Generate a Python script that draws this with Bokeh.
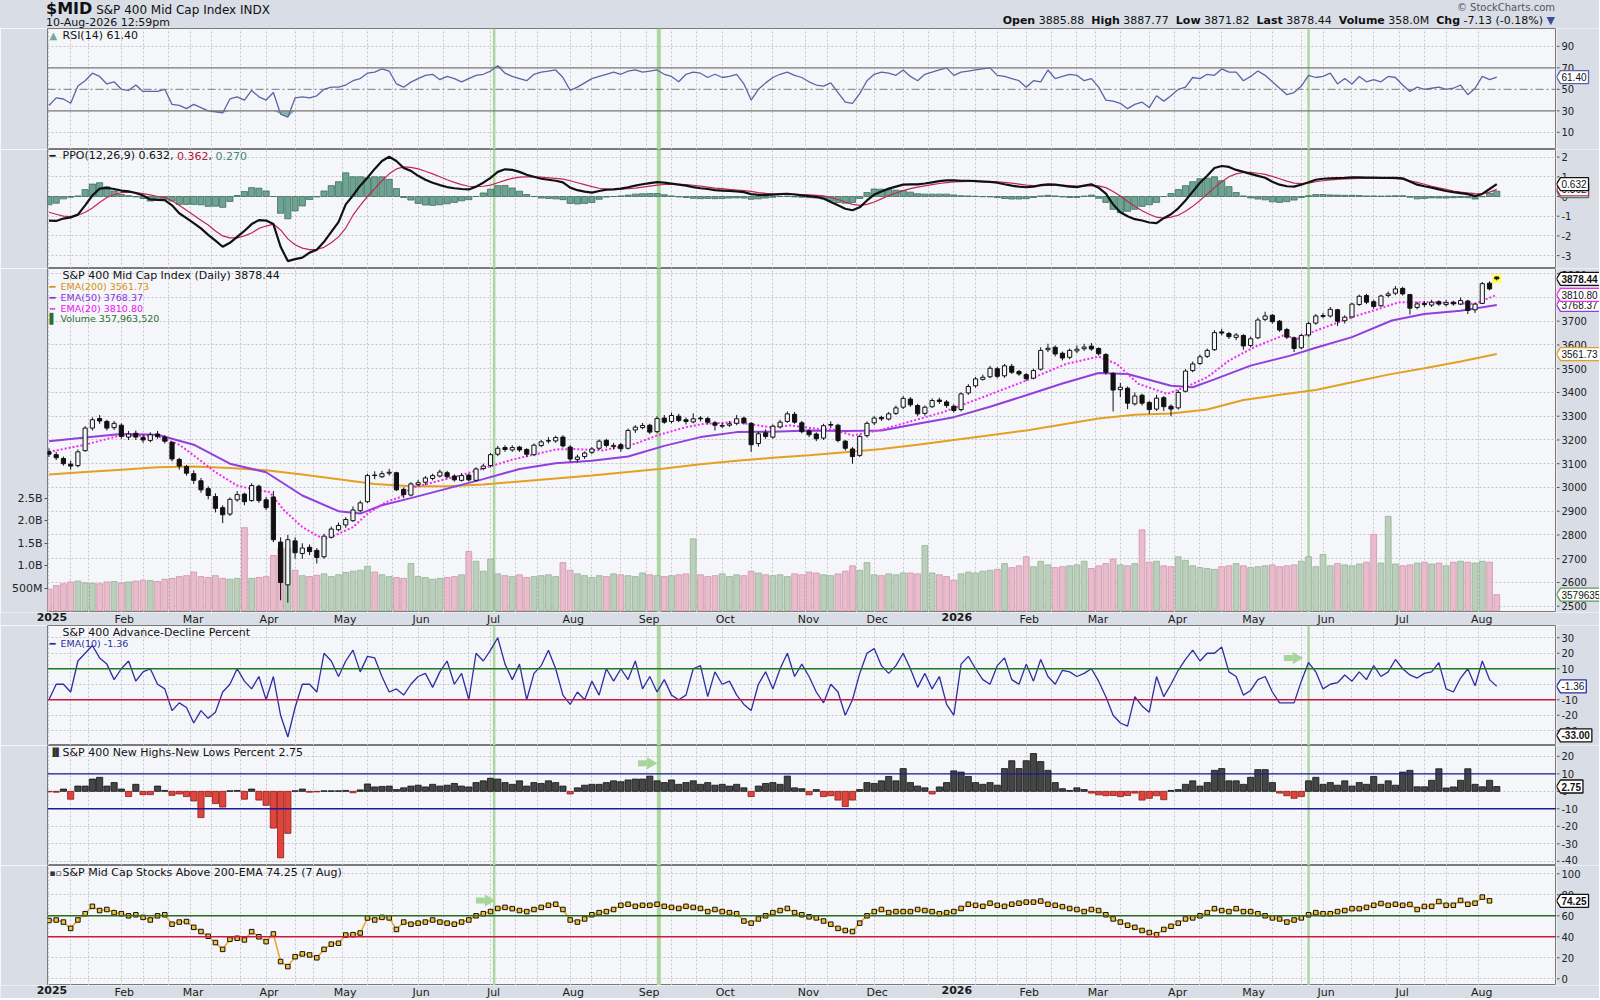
import numpy as np
import pandas as pd
from bokeh.plotting import figure
from bokeh.models import Range1d, LinearAxis, FixedTicker, Label, Span, Grid, Div, ColumnDataSource
from bokeh.layouts import column, row
from bokeh.embed import file_html
from bokeh.resources import INLINE
from bokeh.core.properties import value

# ---------------- calendar ----------------
holidays = ["2025-01-01", "2025-01-09", "2025-01-20", "2025-02-17", "2025-04-18", "2025-05-26",
            "2025-06-19", "2025-07-04", "2025-09-01", "2025-11-27", "2025-12-25", "2026-01-01",
            "2026-01-19", "2026-02-16", "2026-04-03", "2026-05-25", "2026-06-19", "2026-07-03"]
sessions = [d for d in pd.bdate_range("2025-01-02", "2026-08-10") if d.strftime("%Y-%m-%d") not in holidays]

# ---------------- data (one value per two sessions) ----------------
slot = list(range(0, 401, 2))

price_open = [
    3150, 3138, 3122, 3098, 3092, 3155, 3250, 3290, 3278, 3252,
    3262, 3212, 3228, 3210, 3198, 3225, 3212, 3190, 3118, 3088,
    3058, 3028, 2995, 2962, 2915, 2888, 2948, 2972, 2945, 3005,
    2948, 2960, 2770, 2590, 2775, 2722, 2748, 2735, 2708, 2790,
    2822, 2842, 2860, 2902, 2940, 3052, 3045, 3060, 3062, 2992,
    2968, 3012, 3022, 3038, 3048, 3062, 3048, 3030, 3052, 3030,
    3080, 3092, 3140, 3168, 3158, 3170, 3160, 3138, 3176, 3195,
    3196, 3212, 3170, 3118, 3130, 3148, 3165, 3198, 3172, 3180,
    3165, 3242, 3252, 3262, 3235, 3292, 3278, 3300, 3285, 3276,
    3292, 3290, 3272, 3258, 3262, 3270, 3292, 3270, 3185, 3230,
    3212, 3255, 3278, 3308, 3272, 3238, 3225, 3208, 3262, 3262,
    3195, 3162, 3135, 3218, 3272, 3295, 3288, 3312, 3338, 3372,
    3345, 3312, 3340, 3368, 3360, 3342, 3328, 3398, 3428, 3455,
    3466, 3500, 3470, 3510, 3488, 3475, 3460, 3498, 3580, 3590,
    3565, 3548, 3575, 3584, 3595, 3585, 3560, 3480, 3412, 3418,
    3352, 3388, 3358, 3330, 3378, 3342, 3335, 3405, 3492, 3522,
    3552, 3580, 3655, 3648, 3632, 3640, 3598, 3630, 3708, 3725,
    3700, 3665, 3630, 3588, 3642, 3692, 3720, 3722, 3748, 3702,
    3718, 3770, 3808, 3782, 3765, 3808, 3818, 3838, 3812, 3758,
    3775, 3768, 3782, 3770, 3780, 3772, 3785, 3748, 3775, 3860,
    3885.88]
price_high = [
    3165, 3150, 3130, 3112, 3160, 3258, 3295, 3305, 3285, 3280,
    3270, 3238, 3240, 3222, 3232, 3238, 3220, 3195, 3125, 3095,
    3072, 3040, 3005, 2975, 2925, 2958, 2985, 2978, 3018, 3012,
    2960, 2985, 2790, 2800, 2790, 2765, 2760, 2745, 2805, 2835,
    2852, 2875, 2920, 2945, 3058, 3068, 3070, 3078, 3066, 3000,
    3022, 3032, 3048, 3058, 3075, 3070, 3055, 3060, 3058, 3085,
    3100, 3145, 3175, 3178, 3178, 3175, 3165, 3185, 3200, 3212,
    3218, 3220, 3178, 3138, 3152, 3170, 3202, 3205, 3188, 3188,
    3248, 3262, 3272, 3268, 3300, 3305, 3315, 3310, 3295, 3312,
    3300, 3298, 3280, 3272, 3280, 3305, 3298, 3275, 3235, 3245,
    3265, 3285, 3320, 3318, 3280, 3245, 3232, 3268, 3278, 3268,
    3200, 3170, 3222, 3278, 3300, 3302, 3318, 3345, 3385, 3380,
    3352, 3345, 3375, 3378, 3368, 3350, 3400, 3435, 3465, 3475,
    3512, 3508, 3520, 3520, 3495, 3482, 3500, 3590, 3605, 3598,
    3572, 3585, 3598, 3605, 3608, 3590, 3565, 3485, 3440, 3425,
    3400, 3395, 3365, 3390, 3385, 3350, 3410, 3498, 3530, 3560,
    3585, 3662, 3668, 3655, 3650, 3645, 3635, 3715, 3740, 3730,
    3705, 3672, 3635, 3648, 3698, 3730, 3735, 3760, 3752, 3725,
    3778, 3812, 3815, 3790, 3812, 3825, 3848, 3845, 3815, 3782,
    3785, 3790, 3788, 3790, 3786, 3800, 3790, 3778, 3865, 3868,
    3887.77]
price_low = [
    3128, 3115, 3092, 3075, 3085, 3150, 3240, 3268, 3240, 3242,
    3205, 3200, 3200, 3188, 3190, 3205, 3185, 3110, 3075, 3050,
    3015, 2978, 2950, 2895, 2850, 2880, 2940, 2925, 2940, 2935,
    2905, 2770, 2525, 2515, 2700, 2700, 2715, 2680, 2700, 2785,
    2815, 2830, 2855, 2895, 2935, 3035, 3040, 3050, 2985, 2955,
    2962, 3005, 3010, 3030, 3042, 3038, 3025, 3025, 3025, 3025,
    3072, 3085, 3132, 3150, 3150, 3150, 3128, 3132, 3170, 3185,
    3188, 3168, 3108, 3105, 3120, 3140, 3158, 3168, 3160, 3150,
    3160, 3230, 3245, 3225, 3228, 3268, 3270, 3275, 3265, 3270,
    3278, 3265, 3240, 3250, 3255, 3262, 3265, 3150, 3172, 3205,
    3205, 3248, 3272, 3268, 3228, 3212, 3195, 3200, 3250, 3190,
    3155, 3100, 3128, 3210, 3262, 3280, 3282, 3305, 3330, 3340,
    3300, 3302, 3335, 3352, 3335, 3315, 3320, 3390, 3420, 3450,
    3460, 3460, 3462, 3478, 3470, 3448, 3455, 3492, 3570, 3552,
    3535, 3540, 3565, 3575, 3575, 3555, 3475, 3320, 3380, 3330,
    3345, 3345, 3310, 3322, 3322, 3300, 3328, 3400, 3485, 3515,
    3545, 3575, 3640, 3625, 3620, 3580, 3590, 3625, 3700, 3690,
    3655, 3625, 3570, 3582, 3635, 3685, 3712, 3715, 3680, 3690,
    3712, 3765, 3772, 3752, 3760, 3800, 3810, 3808, 3728, 3750,
    3760, 3760, 3765, 3762, 3765, 3768, 3730, 3735, 3772, 3830,
    3871.82]
price_close = [
    3140, 3125, 3100, 3090, 3150, 3250, 3285, 3280, 3250, 3270,
    3215, 3225, 3212, 3200, 3222, 3215, 3195, 3120, 3090, 3060,
    3030, 2990, 2966, 2912, 2885, 2950, 2970, 2940, 3008, 2945,
    2915, 2780, 2600, 2780, 2725, 2745, 2730, 2705, 2795, 2825,
    2840, 2865, 2905, 2935, 3050, 3050, 3058, 3064, 2990, 2970,
    3015, 3020, 3040, 3050, 3065, 3045, 3032, 3050, 3032, 3078,
    3090, 3138, 3165, 3160, 3168, 3158, 3140, 3178, 3192, 3198,
    3210, 3175, 3120, 3128, 3145, 3162, 3195, 3177, 3177, 3163,
    3240, 3254, 3261, 3233, 3290, 3275, 3303, 3282, 3278, 3289,
    3289, 3275, 3262, 3261, 3268, 3289, 3272, 3180, 3226, 3215,
    3258, 3275, 3310, 3275, 3235, 3222, 3205, 3260, 3265, 3198,
    3165, 3130, 3215, 3270, 3292, 3289, 3310, 3335, 3375, 3348,
    3310, 3338, 3366, 3362, 3345, 3324, 3394, 3425, 3457, 3464,
    3502, 3468, 3512, 3485, 3478, 3458, 3492, 3577, 3586, 3562,
    3545, 3577, 3582, 3591, 3583, 3563, 3485, 3410, 3422, 3355,
    3385, 3355, 3328, 3376, 3340, 3330, 3400, 3490, 3520, 3550,
    3577, 3652, 3650, 3635, 3642, 3596, 3626, 3705, 3722, 3698,
    3663, 3633, 3585, 3640, 3690, 3722, 3724, 3750, 3700, 3717,
    3772, 3805, 3780, 3762, 3806, 3815, 3836, 3815, 3755, 3773,
    3770, 3780, 3772, 3778, 3773, 3787, 3745, 3772, 3858, 3836,
    3878.44]
volume_m = [
    480, 560, 600, 640, 660, 620, 610, 600, 640, 650,
    620, 640, 660, 680, 670, 650, 700, 720, 760, 780,
    860, 760, 740, 780, 720, 700, 720, 1850, 720, 740,
    760, 1230, 1380, 1400, 900, 780, 760, 790, 820, 760,
    800, 850, 880, 900, 990, 860, 800, 760, 740, 720,
    1050, 760, 740, 700, 720, 740, 760, 800, 1320, 1100,
    880, 1150, 820, 780, 760, 800, 740, 760, 780, 800,
    760, 1070, 900, 820, 780, 740, 780, 760, 820, 800,
    780, 760, 840, 800, 780, 760, 780, 800, 820, 1600,
    800, 760, 780, 820, 760, 800, 780, 880, 840, 800,
    780, 800, 760, 820, 800, 860, 840, 800, 780, 820,
    880, 1000, 900, 1070, 800, 780, 820, 800, 840, 840,
    820, 1450, 840, 800, 760, 680, 820, 860, 840, 880,
    900, 920, 1050, 960, 1000, 1200, 980, 1100, 1020, 960,
    980, 1000, 1020, 1100, 940, 1000, 1050, 1150, 1020, 1000,
    1050, 1800, 1080, 1100, 1000, 980, 1200, 1120, 1000, 960,
    940, 920, 980, 1000, 1050, 1000, 960, 980, 1000, 1020,
    980, 1000, 1020, 1100, 1200, 980, 1250, 1000, 1050, 1020,
    1000, 1040, 1080, 1700, 1060, 2100, 1040, 1000, 1020, 1060,
    1080, 1040, 1060, 1000, 1080, 1100, 1080, 1060, 1100, 1080,
    358]

ema200_x = [0, 10, 20, 30, 40, 50, 60, 70, 80, 90, 100, 110, 120, 130, 140, 150, 160, 170, 180, 190,
            200, 210, 220, 230, 240, 250, 260, 270, 280, 290, 300, 310, 320, 330, 340, 350, 360, 370,
            380, 390, 400]
ema200 = [3055, 3065, 3075, 3085, 3088, 3082, 3072, 3055, 3035, 3015, 3005, 3005, 3012, 3025, 3038, 3050,
          3065, 3080, 3098, 3112, 3125, 3136, 3148, 3162, 3180, 3200, 3220, 3240, 3265, 3290, 3306, 3311,
          3328, 3368, 3390, 3410, 3443, 3475, 3502, 3530, 3561.73]
ema50_x = [0, 10, 20, 30, 40, 50, 60, 70, 80, 86, 92, 100, 110, 120, 130, 140, 150, 160, 170, 180, 190,
           200, 210, 220, 230, 240, 250, 260, 270, 280, 290, 298, 310, 316, 322, 332, 343, 350, 360, 371,
           380, 390, 400]
ema50 = [3195, 3210, 3225, 3222, 3180, 3100, 3064, 2966, 2900, 2890, 2925, 2955, 2995, 3035, 3078, 3102,
         3112, 3130, 3175, 3212, 3233, 3235, 3240, 3238, 3240, 3268, 3296, 3340, 3388, 3438, 3482, 3478,
         3428, 3422, 3455, 3513, 3555, 3588, 3633, 3703, 3730, 3744, 3768.37]
ema20_x = [0, 10, 20, 30, 36, 40, 46, 52, 56, 61, 65, 70, 74, 76, 79, 84, 88, 93, 97, 100, 114, 128, 140,
           145, 153, 162, 168, 176, 181, 190, 199, 205, 212, 217, 222, 230, 247, 258, 270, 281, 290, 295,
           301, 309, 315, 320, 326, 333, 341, 345, 349, 360, 366, 373, 382, 394, 400]
ema20 = [3150, 3180, 3220, 3215, 3180, 3135, 3064, 3008, 2994, 2980, 2903, 2833, 2798, 2784, 2798, 2833,
         2889, 2938, 2959, 2997, 3052, 3117, 3160, 3162, 3156, 3184, 3219, 3254, 3268, 3275, 3254, 3261,
         3247, 3243, 3219, 3243, 3317, 3380, 3450, 3520, 3551, 3520, 3436, 3394, 3429, 3464, 3534, 3591,
         3640, 3626, 3654, 3717, 3745, 3780, 3780, 3773, 3810.80]

rsi14 = [
    35, 42, 41, 37, 53, 58, 65, 62, 55, 57,
    50, 49, 54, 48, 48, 48, 50, 36, 35, 32,
    36, 33, 30, 29, 28, 41, 43, 40, 49, 43,
    40, 47, 27, 24, 42, 43, 42, 44, 50, 52,
    52, 54, 58, 60, 65, 66, 69, 67, 55, 52,
    56.7, 60, 63, 64, 59, 62, 60, 57, 60, 63,
    64, 67, 72, 65, 62, 60, 58, 64, 66, 67,
    68, 61, 49, 52, 56, 60, 62, 64, 66, 64,
    67, 68, 66, 67, 68, 64, 62, 57, 64, 66,
    65, 61, 64, 61, 62, 64, 55, 40, 50, 56,
    61, 64, 66, 63, 61, 57, 54, 53, 56, 47,
    38, 37, 46, 58, 64, 66, 65, 63, 68, 62,
    58, 64, 66, 68, 70, 63, 66, 67, 68, 69,
    70, 63, 62, 60, 58, 52, 58, 57, 68, 60,
    62, 64, 63, 58, 60, 52, 40, 39, 37, 32,
    36, 38, 33, 44, 39, 44, 50, 52, 61, 60,
    64, 63, 69, 66, 66, 58, 62, 67, 63, 57,
    51, 45, 47, 53, 63, 61, 62, 65, 55, 60,
    55, 62, 57, 59, 57, 62, 61, 54, 48, 52,
    50, 51, 52, 50, 51, 54, 45, 51, 62, 59,
    61.40]

ppo_line = [
    -1.22, -1.24, -1.12, -1.06, -0.92, -0.45, 0.05, 0.40, 0.44, 0.38,
    0.30, 0.26, 0.18, 0.05, -0.15, -0.17, -0.18, -0.45, -0.85, -1.10,
    -1.35, -1.62, -1.95, -2.24, -2.55, -2.35, -2.05, -1.75, -1.40, -1.20,
    -1.22, -1.40, -2.55, -3.28, -3.18, -3.10, -2.85, -2.70, -2.30, -1.80,
    -1.30, -0.40, 0.05, 0.55, 0.95, 1.40, 1.80, 2.02, 1.80, 1.45,
    1.30, 1.05, 0.85, 0.70, 0.58, 0.48, 0.42, 0.38, 0.36, 0.50,
    0.70, 0.95, 1.25, 1.38, 1.35, 1.25, 1.10, 1.00, 0.90, 0.85,
    0.80, 0.72, 0.45, 0.32, 0.25, 0.20, 0.28, 0.35, 0.36, 0.40,
    0.47, 0.55, 0.62, 0.68, 0.73, 0.70, 0.65, 0.60, 0.55, 0.48,
    0.42, 0.38, 0.32, 0.30, 0.28, 0.26, 0.22, 0.12, 0.08, 0.08,
    0.10, 0.12, 0.14, 0.10, 0.06, 0.02, -0.02, -0.10, -0.28, -0.45,
    -0.62, -0.70, -0.55, -0.20, 0.10, 0.25, 0.40, 0.50, 0.60, 0.62,
    0.62, 0.66, 0.72, 0.78, 0.82, 0.82, 0.80, 0.80, 0.78, 0.76,
    0.74, 0.70, 0.62, 0.55, 0.50, 0.47, 0.50, 0.58, 0.62, 0.60,
    0.55, 0.50, 0.48, 0.55, 0.62, 0.45, 0.15, -0.40, -0.80, -1.00,
    -1.15, -1.22, -1.32, -1.35, -1.10, -0.90, -0.60, -0.20, 0.25, 0.70,
    1.05, 1.45, 1.55, 1.50, 1.35, 1.25, 1.15, 1.05, 0.95, 0.75,
    0.60, 0.52, 0.50, 0.60, 0.72, 0.85, 0.90, 0.92, 0.94, 0.95,
    0.97, 0.97, 0.96, 0.96, 0.95, 0.95, 0.95, 0.92, 0.76, 0.60,
    0.52, 0.45, 0.36, 0.28, 0.22, 0.17, 0.12, 0.02, 0.13, 0.38,
    0.632]
ppo_signal = [
    -0.80, -0.90, -1.00, -1.02, -0.95, -0.80, -0.58, -0.30, -0.05, 0.10,
    0.20, 0.22, 0.20, 0.15, 0.08, 0.00, -0.04, -0.22, -0.45, -0.70,
    -0.95, -1.20, -1.45, -1.75, -2.00, -2.10, -2.10, -2.00, -1.85, -1.62,
    -1.50, -1.40, -1.70, -2.15, -2.45, -2.62, -2.70, -2.68, -2.58, -2.35,
    -2.05, -1.60, -0.95, -0.45, 0.00, 0.40, 0.80, 1.15, 1.40, 1.50,
    1.48, 1.40, 1.28, 1.15, 1.00, 0.85, 0.72, 0.60, 0.52, 0.50,
    0.52, 0.58, 0.70, 0.82, 0.92, 0.98, 1.00, 1.00, 0.98, 0.95,
    0.92, 0.88, 0.80, 0.70, 0.60, 0.50, 0.42, 0.38, 0.36, 0.37,
    0.40, 0.43, 0.48, 0.53, 0.58, 0.61, 0.62, 0.62, 0.60, 0.57,
    0.53, 0.48, 0.43, 0.40, 0.36, 0.33, 0.30, 0.26, 0.20, 0.16,
    0.14, 0.12, 0.12, 0.12, 0.10, 0.08, 0.06, 0.03, -0.05, -0.15,
    -0.28, -0.40, -0.45, -0.40, -0.28, -0.12, 0.05, 0.18, 0.30, 0.40,
    0.48, 0.54, 0.60, 0.66, 0.70, 0.74, 0.76, 0.77, 0.77, 0.77,
    0.76, 0.75, 0.72, 0.68, 0.63, 0.58, 0.55, 0.55, 0.56, 0.57,
    0.57, 0.55, 0.53, 0.53, 0.55, 0.54, 0.45, 0.25, 0.02, -0.25,
    -0.50, -0.72, -0.90, -1.05, -1.10, -1.05, -0.95, -0.75, -0.50, -0.20,
    0.12, 0.45, 0.75, 1.00, 1.15, 1.22, 1.22, 1.18, 1.12, 1.02,
    0.90, 0.78, 0.68, 0.65, 0.68, 0.75, 0.80, 0.84, 0.87, 0.89,
    0.91, 0.92, 0.93, 0.93, 0.93, 0.92, 0.91, 0.88, 0.80, 0.72,
    0.62, 0.52, 0.44, 0.36, 0.28, 0.22, 0.18, 0.15, 0.14, 0.22,
    0.362]

ad_ema10 = [
    -10, 0, 0, -5, 15, 20, 25, 17, 13, 3,
    10, 15, 2, 8, 10, 0, -3, -17, -12, -15,
    -25, -17, -22, -18, -5, 0, 10, 2, -3, 5,
    -10, 5, -20, -34, -15, 0, 0, -5, 20, 15,
    5, 15, 22, 8, 18, 17, 5, -5, -3, -7,
    0, 5, 7, -2, 8, 15, 0, 7, -10, 20,
    15, 22, 30, 13, 3, 13, -10, 7, 12, 22,
    10, -7, -13, -5, -10, 2, -7, 10, 2, 10,
    3, 15, -3, 5, -5, 3, -7, -10, -7, 10,
    12, -8, 8, 0, 2, -7, -13, -17, 0, 8,
    -3, 10, 20, 5, 13, 5, -5, -12, 0, -5,
    -20, -10, 7, 20, 23, 12, 7, 12, 20, 10,
    -2, 7, -3, 5, -13, -20, 13, 18, 10, 3,
    0, 12, 17, 3, 0, 13, 2, 16, 5, 0,
    9, 8, 5, 7, 10, 2, -8, -20, -25, -27,
    -8, -14, -18, 5, -8, 0, 9, 16, 22, 15,
    20, 20, 24, 8, 5, -7, -4, 3, 5, -5,
    -12, -12, -12, 2, 14, 8, -3, 0, 1, 6,
    2, 8, 3, 12, 5, 8, 16, 10, 6, 4,
    7, 8, 14, -3, -5, 4, 10, -1, 15, 3,
    -1.36]
ad_last = -33.00

nhnl_pct = [
    -0.3, -0.5, 1.3, -4.5, 3, 3, 7, 8, 3, 5,
    1.3, -3, 4, -1.9, -1.9, 3, 0.5, -2.3, -1.5, -3,
    -5.5, -15, -3, -7, -9, 0.3, 0.5, -4.5, 1.3, -5,
    -8, -21, -38, -24, 0.3, 1.3, -0.5, -0.3, 0.3, 0.3,
    0.3, 0.5, -0.8, 0.8, 4.2, 2.5, 2.8, 3, 1, 2,
    3, 3.5, 2.5, 4, 3, 3.5, 4.5, 3, 2.5, 5,
    6, 7.5, 7, 5, 4, 6, 3, 5, 4.5, 6,
    5, 3, -1.5, 2, 3.5, 4, 4, 5, 6, 5.5,
    6.5, 7, 7, 8.7, 6, 5, 6.5, 4, 5, 6,
    4, 5, 3.5, 4, 3, 4, 2, -3, 3, 4.5,
    5, 4, 8.7, 2, 1.5, -2, 1, -3, -2.5, -5,
    -8.7, -5, 1, 5, 4.5, 6, 8.5, 6, 13, 5,
    3, 2, -1.5, 2.5, 5, 11.7, 11, 8.5, 5, 4,
    5, 3.5, 13, 17.5, 13, 17.5, 21.6, 17, 12, 5,
    1.5, 0.5, 2, 1, -1, -2, -2.5, -2.4, -3, -2.4,
    -1, -5, -4, -2.5, -4.8, 0.5, 1, 4, 6, 3,
    5, 12, 13, 6, 6, 4, 8, 12.4, 12.4, 5,
    -1, -2.5, -4, -3, 6, 8, 4, 5, 3.5, 6,
    3, 5, 4, 8.5, 4, 6, 3.5, 11, 12, 2.6,
    2.6, 6.3, 12.9, 1.9, 2.5, 6.3, 12.9, 4, 2.6, 6.3,
    2.75]

above200 = [
    55.5, 56, 54, 48, 56, 62, 69, 65, 66, 63,
    62, 60, 61, 58.5, 56, 60, 61, 52, 54, 54.5,
    49, 45, 40.5, 34.5, 28, 37.6, 38.6, 37, 44.9, 40,
    35.4, 42.7, 16.4, 11.6, 21, 23.7, 22.7, 20, 28, 33,
    33.8, 41.7, 42, 43.6, 57.9, 56, 58.5, 58, 47, 54,
    52, 53, 54, 56, 54, 53, 52, 54, 56, 60,
    62, 64, 67, 68, 66.8, 65, 64, 66, 68, 70,
    71, 66, 56, 54, 57, 61, 63, 64, 66, 70,
    71, 69, 70, 70, 71, 69, 68, 67, 69, 68,
    67, 64, 66, 64, 63, 62, 55, 53, 57, 60,
    63, 65, 67, 63, 61, 59, 58, 55, 52, 48,
    46, 45, 53, 60, 64, 66, 63, 64, 64, 64,
    66, 65, 64, 62, 63, 64, 67, 71, 70, 69,
    72, 70, 69, 71, 72, 73, 73, 74, 71, 70,
    68.7, 67, 66, 64, 66, 65, 61, 57, 54, 51,
    49, 46, 44, 42, 47, 50, 53, 57, 58, 60,
    63, 66.8, 65, 64, 66.8, 64, 64, 62, 60, 58,
    57, 54, 56, 58, 61, 63, 62, 62, 64, 65,
    66.8, 66.8, 68, 70, 71.7, 70, 71, 70, 70.8, 66,
    68.9, 69, 73.6, 70, 70, 74.6, 71, 72, 77.8, 74.25]

marker_sessions = [123, 168.5, 348]
arrow_ad = ([343.6], [17.0])
arrow_nh = ([165.2], [16.0])
arrow_ab = ([120.4], [74.6])

# ---------------- layout constants ----------------
FW = 1509
BL, BR = 47, 43
XR = (-0.4, 416.5)
H_HEAD, H_RSI, H_PPO, H_PRICE, AX1, H_AD, H_NH, H_AB, AX2 = 28, 121, 119, 344, 13, 120, 120, 120, 13
RSI_YR = (-6.0, 106.6)
PPO_YR = (-3.655, 2.386)
PRICE_YR = (2473.5, 3921.9)
VOL_YR = (-40, 7621)
AD_YR = (-39.5, 37.9)
NH_YR = (-42.4, 26.2)
AB_YR = (-6.4, 107.9)

BG = "#f5f6fa"
BORDER = "#d9dde5"
GRIDC = "#c4c6cc"
FONT = "DejaVu Sans"
TAGFONT = "Liberation Sans"

# ticks derived from calendar
month_ticks, month_labels, vgrid = [], [], []
prev = None
for i, d in enumerate(sessions):
    key = (d.year, d.month)
    if key != prev:
        prev = key
        month_ticks.append(i)
        month_labels.append(str(d.year) if d.month == 1 else d.strftime("%b"))
        vgrid.append(i)
        done = {11: False, 21: False}
    for dd in (11, 21):
        if d.day >= dd and not done[dd]:
            done[dd] = True
            vgrid.append(i)

xr = Range1d(*XR)

CW = {' ': .318, '.': .318, ',': .318, '(': .39, ')': .39, '-': .361, 'P': .603, 'O': .787}
for ch in "0123456789":
    CW[ch] = .636
AW = {'.': .278, '-': .333}
for ch in "0123456789":
    AW[ch] = .556


def tw(s, size):
    return sum(CW.get(ch, .6) for ch in s) * size


def panel(fh, yr):
    p = figure(frame_width=FW, frame_height=fh, x_range=xr, y_range=Range1d(*yr),
               output_backend="svg", toolbar_location=None,
               x_axis_location=None, y_axis_location=None,
               min_border_left=BL, min_border_right=0, min_border_top=0, min_border_bottom=0,
               background_fill_color=BG, border_fill_color=BORDER, outline_line_color="#7a7a7a")
    p.grid.visible = False
    p.add_layout(Grid(dimension=0, ticker=FixedTicker(ticks=vgrid), grid_line_color=GRIDC,
                      grid_line_dash="2 2", grid_line_width=1))
    for m in marker_sessions:
        p.add_layout(Span(location=m, dimension="height", line_color="#add6a0",
                          line_width=4 if m == 168.5 else 2.5, level="underlay"))
    return p


def hgrid(p, ticks):
    p.add_layout(Grid(dimension=1, ticker=FixedTicker(ticks=ticks), grid_line_color=GRIDC,
                      grid_line_dash="2 2", grid_line_width=1))


def strip(p, fh, yr, ticks, tags, extra=None):
    """right-hand scale: tick marks, tick labels and value tags"""
    s = figure(frame_width=BR, frame_height=fh, x_range=Range1d(0, BR), y_range=p.y_range,
               output_backend="svg", toolbar_location=None, x_axis_location=None, y_axis_location=None,
               min_border_left=0, min_border_right=0, min_border_top=0, min_border_bottom=0,
               background_fill_color=BORDER, border_fill_color=BORDER, outline_line_color=None)
    s.grid.visible = False
    if extra:
        s.extra_y_ranges = extra
    s.segment(x0=0, y0=ticks, x1=3, y1=ticks, line_color="#555", line_width=1)
    # keep labels that sit close to an edge fully inside the strip
    ppu = fh / (yr[1] - yr[0])
    offs = []
    for t in ticks:
        d_bot = (t - yr[0]) * ppu
        d_top = (yr[1] - t) * ppu
        if d_bot < 6:
            offs.append(-(6 - d_bot))
        elif d_top < 6:
            offs.append(6 - d_top)
        else:
            offs.append(0)
    src = ColumnDataSource(dict(y=ticks, t=[str(t) for t in ticks], off=offs))
    s.text(x=5, y="y", text="t", y_offset="off", source=src, text_font=value(FONT), text_font_size="10px",
           text_baseline="middle", text_color="#222")
    for yv, txt, col, bold, yname in tags:
        rng = yr if yname == "default" else VOL_YR
        hh = 6.5 * (rng[1] - rng[0]) / fh
        w = sum(AW.get(ch, .6) for ch in txt) * 10 + 3
        s.patch(x=[0, 4, 4 + w, 4 + w, 4], y=[yv, yv + hh, yv + hh, yv - hh, yv - hh],
                fill_color="white", line_color=col, line_width=1.3, y_range_name=yname)
        s.text(x=[5], y=[yv], text=[txt], text_font=value(TAGFONT), text_font_size="10px",
               text_baseline="middle", text_color="#111", text_font_style="bold" if bold else "normal",
               y_range_name=yname)
    return s


def xstrip(fh):
    sc = (XR[1] - XR[0]) / FW
    s = figure(frame_width=BL + FW + BR, frame_height=fh, x_range=Range1d(XR[0] - BL * sc, XR[1] + BR * sc),
               y_range=Range1d(0, fh), output_backend="svg", toolbar_location=None,
               x_axis_location=None, y_axis_location=None,
               min_border_left=0, min_border_right=0, min_border_top=0, min_border_bottom=0,
               background_fill_color=BORDER, border_fill_color=BORDER, outline_line_color=None)
    s.grid.visible = False
    src = ColumnDataSource(dict(x=[t + 3 * sc for t in month_ticks], y=[fh] * len(month_ticks),
                                t=month_labels,
                                st=["bold" if m.isdigit() else "normal" for m in month_labels]))
    s.text(x="x", y="y", text="t", source=src, text_font=value(FONT), text_font_size="11px",
           text_font_style="st", text_align="center", text_baseline="top", text_color="#1a1a1a")
    return s


def lab(p, yr, fh, px, py, text, color="#111", size=11, bold=False):
    x = XR[0] + px * (XR[1] - XR[0]) / FW
    y = yr[1] - py * (yr[1] - yr[0]) / fh
    p.add_layout(Label(x=x, y=y, text=text, text_color=color, text_font_size=f"{size}px",
                       text_font=FONT, text_baseline="middle", text_align="left",
                       text_font_style="bold" if bold else "normal"))


# ---------------- header ----------------
TOT = BL + FW + BR
header = Div(width=TOT, height=H_HEAD, margin=0, text=(
    f"<div style='position:relative;width:{TOT}px;height:{H_HEAD}px;background:{BORDER};"
    f"font-family:\"DejaVu Sans\",sans-serif;color:#111;overflow:hidden'>"
    f"<div style='position:absolute;left:{BL - 1}px;top:0px;white-space:nowrap;line-height:18px'>"
    "<span style='font-size:16px;font-weight:bold'>$MID</span> "
    "<span style='font-size:12px'>S&amp;P 400 Mid Cap Index</span>&nbsp;"
    "<span style='font-size:12px'>INDX</span></div>"
    f"<div style='position:absolute;left:{BL - 1}px;top:17px;font-size:11px;line-height:11px;white-space:nowrap'>"
    "10-Aug-2026 12:59pm</div>"
    f"<div style='position:absolute;right:{BR + 1}px;top:3px;font-size:10px;line-height:10px;color:#555'>"
    "&#169; StockCharts.com</div>"
    f"<div style='position:absolute;right:{BR + 1}px;top:15px;font-size:11px;line-height:12px;white-space:nowrap'>"
    "<b>Open</b> 3885.88&nbsp; <b>High</b> 3887.77&nbsp; <b>Low</b> 3871.82&nbsp; <b>Last</b> 3878.44&nbsp; "
    "<b>Volume</b> 358.0M&nbsp; <b>Chg</b> -7.13 (-0.18%) <span style='color:#3d4f9a'>&#9660;</span></div>"
    "</div>"))

# ---------------- RSI ----------------
rsi = np.array(rsi14, dtype=float)
p1 = panel(H_RSI, RSI_YR)
hgrid(p1, [10, 90])
p1.varea(x=slot, y1=np.full(len(slot), 70.0), y2=np.maximum(rsi, 70), fill_color="#74a898", fill_alpha=0.85)
p1.varea(x=slot, y1=np.minimum(rsi, 30), y2=np.full(len(slot), 30.0), fill_color="#74a898", fill_alpha=0.85)
for lv in (70, 30):
    p1.add_layout(Span(location=lv, dimension="width", line_color="#777777", line_width=1.2))
p1.add_layout(Span(location=50, dimension="width", line_color="#777777", line_width=1, line_dash="8 3 2 3"))
p1.line(slot, rsi, line_color="#5a65a5", line_width=1.3)
lab(p1, RSI_YR, H_RSI, 2, 7, "\u25b2", color="#74a898", size=10)
lab(p1, RSI_YR, H_RSI, 15, 7, "RSI(14) 61.40")
s1 = strip(p1, H_RSI, RSI_YR, [10, 30, 50, 70, 90], [(61.40, "61.40", "#5a65a5", False, "default")])

# ---------------- PPO ----------------
ppo = np.array(ppo_line)
sig = np.array(ppo_signal)
p2 = panel(H_PPO, PPO_YR)
hgrid(p2, [-3, -2, -1, 0, 1, 2])
p2.vbar(x=slot, top=ppo - sig, bottom=0, width=1.7, fill_color="#6ea392", line_color="#3c6e5e", line_width=0.8)
p2.line(slot, sig, line_color="#c0284f", line_width=1.2)
p2.line(slot, ppo, line_color="#111111", line_width=2.2)
lab(p2, PPO_YR, H_PPO, 2, 6.3, "\u2501", color="#111", size=10)
t0 = "PPO(12,26,9) 0.632, "
lab(p2, PPO_YR, H_PPO, 15, 6.3, t0)
x1 = 15 + tw(t0, 11)
lab(p2, PPO_YR, H_PPO, x1, 6.3, "0.362", color="#b0183e")
x2 = x1 + tw("0.362", 11)
lab(p2, PPO_YR, H_PPO, x2, 6.3, ", ")
x3 = x2 + tw(", ", 11)
lab(p2, PPO_YR, H_PPO, x3, 6.3, "0.270", color="#3d8a72")
s2 = strip(p2, H_PPO, PPO_YR, [-3, -2, -1, 0, 1, 2],
           [(0.270, "0.270", "#3d8a72", False, "default"), (0.362, "0.362", "#c0284f", False, "default"),
            (0.632, "0.632", "#111", False, "default")])

# ---------------- price + volume ----------------
o = np.array(price_open)
h = np.array(price_high)
l = np.array(price_low)
c = np.array(price_close)
up = c >= o
p3 = panel(H_PRICE, PRICE_YR)
p3.extra_y_ranges = {"vol": Range1d(*VOL_YR)}
price_ticks = list(range(2500, 4000, 100))
hgrid(p3, price_ticks)
vax = LinearAxis(y_range_name="vol", ticker=FixedTicker(ticks=[500, 1000, 1500, 2000, 2500]),
                 major_label_overrides={500: "500M", 1000: "1.0B", 1500: "1.5B", 2000: "2.0B", 2500: "2.5B"},
                 axis_line_color=None, major_tick_line_color="#555", major_tick_out=3, major_tick_in=0,
                 minor_tick_line_color=None, major_label_standoff=2, major_label_text_font_size="11px",
                 major_label_text_font=FONT, major_label_text_color="#222")
p3.add_layout(vax, "left")
p3.vbar(x=slot, top=volume_m, bottom=0, width=1.6, y_range_name="vol",
        fill_color=np.where(up, "#bccfbc", "#e8bccb").tolist(),
        line_color=np.where(up, "#93b293", "#cf93aa").tolist(), line_width=0.8)
p3.line(ema200_x, ema200, line_color="#e4a023", line_width=2)
p3.line(ema50_x, ema50, line_color="#9140de", line_width=2)
p3.line(ema20_x, ema20, line_color="#f22cf2", line_width=2, line_dash="2 2")
p3.rect(x=[slot[-1]], y=[price_close[-1]], width=9, height=9, width_units="screen", height_units="screen",
        fill_color="#ffff5a", line_color=None)
p3.segment(x0=slot, y0=l, x1=slot, y1=h, line_color="#111", line_width=1)
p3.vbar(x=slot, top=np.maximum(o, c), bottom=np.minimum(o, c), width=1.15,
        fill_color=np.where(up, BG, "#111").tolist(), line_color="#111", line_width=1)
lab(p3, PRICE_YR, H_PRICE, 15, 7.4, "S&P 400 Mid Cap Index (Daily) 3878.44")
legend_rows = [("EMA(200) 3561.73", "#d7900f", "\u2501"), ("EMA(50) 3768.37", "#8a34da", "\u2501"),
               ("EMA(20) 3810.80", "#ee10ee", "\u2505"), ("Volume 357,963,520", "#2f6f2f", "\u258c")]
for k, (txt, col, ic) in enumerate(legend_rows):
    yy = 18.4 + k * 10.6
    lab(p3, PRICE_YR, H_PRICE, 2, yy, ic, color=col, size=10)
    lab(p3, PRICE_YR, H_PRICE, 13, yy, txt, color=col, size=9.5)
s3 = strip(p3, H_PRICE, PRICE_YR, price_ticks,
           [(3561.73, "3561.73", "#e4a023", False, "default"), (357.96, "357963520", "#5a9a5a", False, "vol"),
            (3768.37, "3768.37", "#9140de", False, "default"), (3810.80, "3810.80", "#f22cf2", False, "default"),
            (3878.44, "3878.44", "#111", True, "default")],
           extra={"vol": p3.extra_y_ranges["vol"]})

# ---------------- Advance-Decline ----------------
p4 = panel(H_AD, AD_YR)
ad_ticks = [-30, -20, -10, 0, 10, 20, 30]
hgrid(p4, ad_ticks)
p4.add_layout(Span(location=10, dimension="width", line_color="#1f7a1f", line_width=1.4))
p4.add_layout(Span(location=-10, dimension="width", line_color="#c8163f", line_width=1.4))
p4.line(slot, ad_ema10, line_color="#2b2fa0", line_width=1.3)
p4.rect(x=[arrow_ad[0][0] - 1.2], y=arrow_ad[1], width=9, height=6, width_units="screen",
        height_units="screen", fill_color="#a8d59a", line_color=None)
p4.scatter(x=[arrow_ad[0][0] + 1.0], y=arrow_ad[1], marker="triangle", size=12, angle=-np.pi / 2,
           fill_color="#a8d59a", line_color=None)
lab(p4, AD_YR, H_AD, 15, 6.6, "S&P 400 Advance-Decline Percent")
lab(p4, AD_YR, H_AD, 2, 18, "\u2501", color="#2b2fa0", size=10)
lab(p4, AD_YR, H_AD, 13, 18, "EMA(10) -1.36", color="#2b2fa0", size=9.5)
s4 = strip(p4, H_AD, AD_YR, ad_ticks,
           [(ad_last, "-33.00", "#111", True, "default"), (-1.36, "-1.36", "#2b2fa0", False, "default")])

# ---------------- New Highs - New Lows ----------------
nh = np.array(nhnl_pct)
p5 = panel(H_NH, NH_YR)
nh_ticks = [-40, -30, -20, -10, 0, 10, 20]
hgrid(p5, nh_ticks)
p5.add_layout(Span(location=10, dimension="width", line_color="#1b1b95", line_width=1.4))
p5.add_layout(Span(location=-10, dimension="width", line_color="#1b1b95", line_width=1.4))
p5.vbar(x=slot, top=nh, bottom=0, width=1.7,
        fill_color=np.where(nh >= 0, "#454545", "#e2443c").tolist(),
        line_color=np.where(nh >= 0, "#111111", "#8a1a16").tolist(), line_width=0.8)
p5.rect(x=[arrow_nh[0][0] - 1.2], y=arrow_nh[1], width=9, height=6, width_units="screen",
        height_units="screen", fill_color="#a8d59a", line_color=None)
p5.scatter(x=[arrow_nh[0][0] + 1.0], y=arrow_nh[1], marker="triangle", size=12, angle=-np.pi / 2,
           fill_color="#a8d59a", line_color=None)
lab(p5, NH_YR, H_NH, 2, 7, "\u2590\u258c", color="#333", size=8)
lab(p5, NH_YR, H_NH, 15, 7, "S&P 400 New Highs-New Lows Percent 2.75")
s5 = strip(p5, H_NH, NH_YR, nh_ticks, [(2.75, "2.75", "#111", True, "default")])

# ---------------- Stocks above 200-EMA ----------------
p6 = panel(H_AB, AB_YR)
ab_ticks = [0, 20, 40, 60, 80, 100]
hgrid(p6, ab_ticks)
p6.add_layout(Span(location=60, dimension="width", line_color="#2b6b1e", line_width=1.4))
p6.add_layout(Span(location=40, dimension="width", line_color="#d2173f", line_width=1.4))
p6.line(slot[:len(above200)], above200, line_color="#eea733", line_width=1.6)
p6.scatter(slot[:len(above200)], above200, marker="square", size=4.5, line_color="#111",
           fill_color="#f0c040", line_width=1)
p6.rect(x=[arrow_ab[0][0] - 1.2], y=arrow_ab[1], width=9, height=6, width_units="screen",
        height_units="screen", fill_color="#a8d59a", line_color=None)
p6.scatter(x=[arrow_ab[0][0] + 1.0], y=arrow_ab[1], marker="triangle", size=12, angle=-np.pi / 2,
           fill_color="#a8d59a", line_color=None)
lab(p6, AB_YR, H_AB, 2, 7.3, "\u25aa\u25ab", color="#333", size=9)
lab(p6, AB_YR, H_AB, 15, 7.3, "S&P Mid Cap Stocks Above 200-EMA 74.25 (7 Aug)")
s6 = strip(p6, H_AB, AB_YR, ab_ticks, [(74.25, "74.25", "#111", True, "default")])

layout = column(header,
                row(p1, s1, spacing=0), row(p2, s2, spacing=0), row(p3, s3, spacing=0),
                xstrip(AX1),
                row(p4, s4, spacing=0), row(p5, s5, spacing=0), row(p6, s6, spacing=0),
                xstrip(AX2), spacing=0)
open("out.html", "w").write(file_html(layout, INLINE))
